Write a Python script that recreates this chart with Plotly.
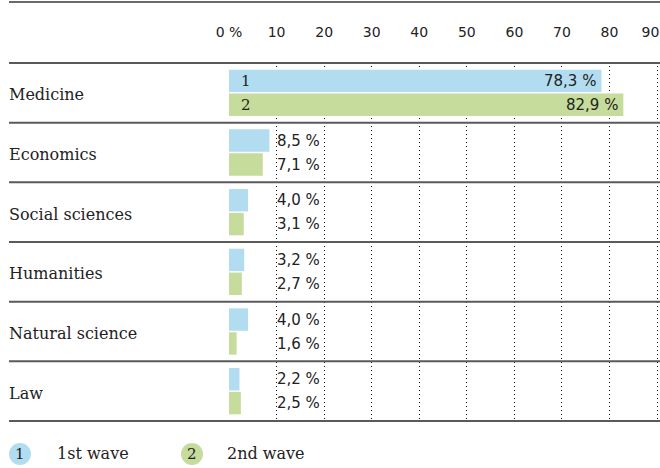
import plotly.graph_objects as go

categories = ["Medicine", "Economics", "Social sciences", "Humanities", "Natural science", "Law"]
wave1 = [78.3, 8.5, 4.0, 3.2, 4.0, 2.2]
wave2 = [82.9, 7.1, 3.1, 2.7, 1.6, 2.5]
series_names = ["1st wave", "2nd wave"]
series_marks = ["1", "2"]
tick_vals = [0, 10, 20, 30, 40, 50, 60, 70, 80, 90]
tick_text = ["0 %", "10", "20", "30", "40", "50", "60", "70", "80", "90\u00a0\u00a0\u00a0"]

BLUE = "#b2ddf0"
GREEN = "#c6dc9c"
colors = [BLUE, GREEN]
TXT = "#222222"
SERIF = "DejaVu Serif"
SANS = "DejaVu Sans"

W, H = 660, 468
L, R, T, B = 229, 1, 62, 46
pw, ph = W - L - R, H - T - B
X_MAX = 90.4

def fmt(v):
    return f"{v:.1f}".replace(".", ",") + " %"

fig = go.Figure()
for vals, col, name in zip([wave1, wave2], colors, series_names):
    fig.add_trace(go.Bar(y=categories, x=vals, orientation="h", marker_color=col,
                         marker_line_width=0, name=name, showlegend=False,
                         hoverinfo="skip"))

annotations = []
shapes = []
LABEL_X = 10
for i, c in enumerate(categories):
    for j, vals in enumerate([wave1, wave2]):
        v = vals[i]
        ys = 12 if j == 0 else -12
        if v > 30:
            annotations.append(dict(x=v, y=c, xref="x", yref="y", text=fmt(v), showarrow=False,
                                    xanchor="right", xshift=-3, yshift=ys,
                                    font=dict(family=SANS, size=15, color=TXT)))
            annotations.append(dict(x=0, y=c, xref="x", yref="y", text=series_marks[j], showarrow=False,
                                    xanchor="left", xshift=10, yshift=ys,
                                    font=dict(family=SERIF, size=15, color=TXT)))
        else:
            annotations.append(dict(x=LABEL_X, y=c, xref="x", yref="y", text=fmt(v), showarrow=False,
                                    xanchor="left", xshift=-2, yshift=ys,
                                    font=dict(family=SANS, size=15, color=TXT)))
    annotations.append(dict(x=0, y=c, xref="paper", yref="y", text=c, showarrow=False,
                            xanchor="left", xshift=-(L - 7), yshift=-2,
                            font=dict(family=SERIF, size=16, color=TXT)))

# horizontal separators
x0p = (9 - L) / pw
x1p = (W - L) / pw
for k in range(len(categories) + 1):
    shapes.append(dict(type="line", xref="paper", yref="y", x0=x0p, x1=x1p,
                       y0=k - 0.5, y1=k - 0.5, line=dict(color="#5a5a5a", width=2)))
shapes.append(dict(type="line", xref="paper", yref="paper", x0=x0p, x1=x1p,
                   y0=1 + (T - 2) / ph, y1=1 + (T - 2) / ph, line=dict(color="#6a6a6a", width=2)))

# legend
leg_y = (H - B - 454) / ph
for (cx, tx), col, mark, name in zip([(20, 55), (192, 225)], colors, series_marks, series_names):
    shapes.append(dict(type="circle", xref="paper", yref="paper", xsizemode="pixel", ysizemode="pixel",
                       xanchor=(cx - L) / pw, yanchor=leg_y, x0=-11, x1=11, y0=-11, y1=11,
                       fillcolor=col, line=dict(width=0)))
    annotations.append(dict(x=(cx - L) / pw, y=leg_y, xref="paper", yref="paper", text=mark,
                            showarrow=False, xanchor="center", yanchor="middle",
                            font=dict(family=SERIF, size=15, color=TXT)))
    annotations.append(dict(x=(tx - L) / pw, y=leg_y, xref="paper", yref="paper", text=name,
                            showarrow=False, xanchor="left", yanchor="middle",
                            font=dict(family=SERIF, size=16, color=TXT)))

fig.update_layout(
    width=W, height=H, margin=dict(l=L, r=R, t=T, b=B, autoexpand=False),
    paper_bgcolor="white", plot_bgcolor="white",
    barmode="group", bargap=0.2, bargroupgap=0.06,
    annotations=annotations, shapes=shapes,
    xaxis=dict(range=[0, X_MAX], side="top", tickvals=tick_vals, ticktext=tick_text,
               showgrid=True, gridcolor="#111111", gridwidth=1, griddash="1px,3px",
               zeroline=False, showline=False, ticks="outside", ticklen=18,
               tickcolor="rgba(0,0,0,0)", tickfont=dict(family=SANS, size=14, color=TXT),
               ticklabeloverflow="allow",
               automargin=False, fixedrange=True),
    yaxis=dict(autorange="reversed", showticklabels=False, showgrid=False, zeroline=False,
               showline=False, ticks="", fixedrange=True),
)

fig.write_html("out.html", config={"displayModeBar": False},
               post_script="document.body.style.margin='0';")
